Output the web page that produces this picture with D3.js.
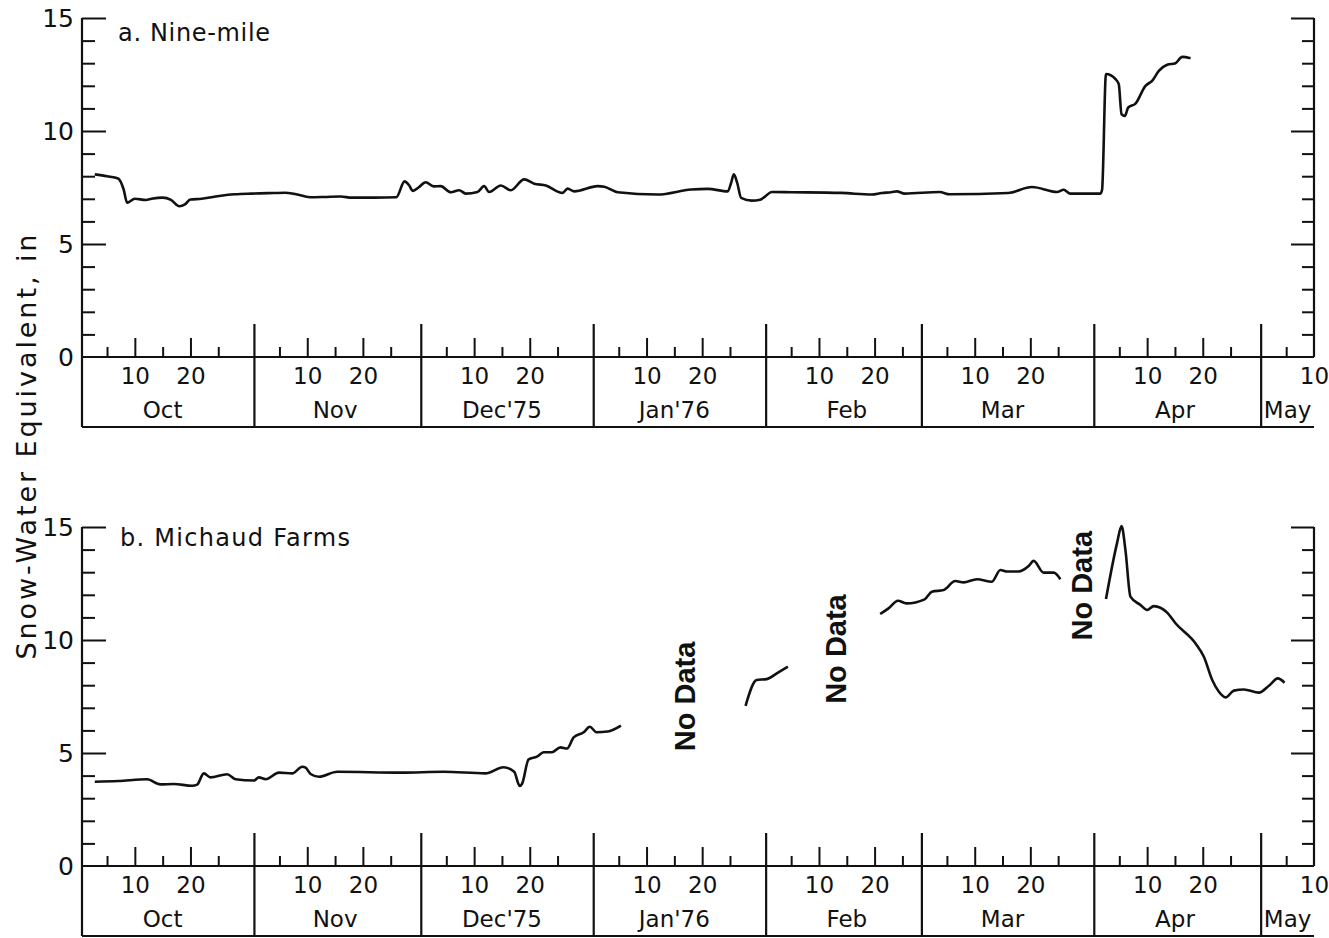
<!DOCTYPE html>
<html><head><meta charset="utf-8">
<script src="https://cdn.jsdelivr.net/npm/d3@7"></script>
<style>
body{margin:0;background:#fff}
svg{display:block}
text{font-family:"DejaVu Sans",sans-serif;fill:#111}
</style>
</head><body>
<svg id="c" width="1329" height="938"></svg>
<script>
// ---------- data ----------
const monthKeys   = ["Oct","Nov","Dec","Jan","Feb","Mar","Apr","May"];
const monthLabels = ["Oct","Nov","Dec'75","Jan'76","Feb","Mar","Apr","May"];
const monthDays   = [31,30,31,31,28,31,30,10];   // as drawn on the original axis
const shortTickDays = [5,15,25];
const longTickDays  = [10,20];
const dayLabels     = ["10","20"];
const yMajor = [0,5,10,15];
const yMinor = [1,2,3,4,6,7,8,9,11,12,13,14];
const yLabel = "Snow-Water Equivalent, in";

// a. Nine-mile
const nineMileDates = ["Oct 2.8","Oct 5","Oct 7","Oct 8","Oct 8.6","Oct 10","Oct 12","Oct 13","Oct 15","Oct 16.5","Oct 18","Oct 19","Oct 20","Oct 22","Oct 24.5","Oct 28","Oct 31",
  "Nov 3","Nov 6","Nov 8","Nov 10.5","Nov 13","Nov 16","Nov 18","Nov 22","Nov 26","Nov 27.5","Nov 28.3","Nov 29","Nov 30",
  "Dec 1.3","Dec 2.7","Dec 4","Dec 5.8","Dec 7.3","Dec 8.5","Dec 10.6","Dec 11.8","Dec 12.7","Dec 14.8","Dec 16.6","Dec 19","Dec 20.8","Dec 22.9","Dec 25.9","Dec 26.8","Dec 28",
  "Jan 1.2","Jan 2.4","Jan 4.8","Jan 12","Jan 18","Jan 21","Jan 24.6","Jan 25.2","Jan 25.7","Jan 26.3","Jan 27","Jan 28.9","Jan 30.4","Jan 31.3",
  "Feb 1.5","Feb 5","Feb 14","Feb 19.5","Feb 21.3","Feb 23","Feb 24","Feb 25.4",
  "Mar 3.7","Mar 5.5","Mar 16","Mar 20.3","Mar 24.8","Mar 26","Mar 27.2",
  "Apr 1.6","Apr 1.9","Apr 2.6","Apr 4.3","Apr 4.9","Apr 5.4","Apr 6","Apr 6.6","Apr 7.9","Apr 9.7","Apr 10.9","Apr 12.1","Apr 13.6","Apr 15.1","Apr 16.3","Apr 17.8"];
const nineMileSWE = [8.08,8.0,7.9,7.4,6.83,7.0,6.95,7.0,7.05,6.95,6.67,6.75,6.97,7.0,7.1,7.2,7.23,
  7.25,7.27,7.2,7.07,7.08,7.1,7.05,7.05,7.07,7.77,7.6,7.35,7.5,
  7.73,7.55,7.56,7.29,7.38,7.23,7.3,7.56,7.3,7.59,7.38,7.86,7.67,7.59,7.26,7.45,7.33,
  7.56,7.53,7.29,7.19,7.41,7.44,7.33,7.7,8.08,7.7,7.04,6.92,6.96,7.1,
  7.3,7.29,7.26,7.19,7.26,7.29,7.33,7.23,
  7.3,7.2,7.26,7.52,7.3,7.4,7.23,
  7.23,7.4,12.52,12.3,12.07,10.74,10.67,11.04,11.21,12.0,12.22,12.66,12.93,13.0,13.28,13.22];

// b. Michaud Farms (null = no data)
const michaudDates = ["Oct 2.8","Oct 7","Oct 12.2","Oct 14.6","Oct 17","Oct 20.3","Oct 21.2","Oct 22.4","Oct 23.6","Oct 26.6","Oct 28.1","Oct 31.4",
  "Nov 1.3","Nov 2.5","Nov 4.9","Nov 7.3","Nov 9.1","Nov 9.7","Nov 10.6","Nov 12.1","Nov 15.4","Nov 26.8",
  "Dec 4.5","Dec 12","Dec 15.3","Dec 17.2","Dec 18.2","Dec 18.6","Dec 19.8","Dec 21.3","Dec 22.5","Dec 24","Dec 25.5","Dec 26.7","Dec 27.9","Dec 29.7","Dec 30.8",
  "Jan 1","Jan 3","Jan 5.4","Jan 16",
  "Jan 27.8","Jan 29.8","Jan 31.6","Feb 2.7","Feb 4.4","Feb 12",
  "Feb 21","Feb 22.5","Feb 24.2","Feb 25.7","Mar 1","Mar 2.3","Mar 4.4","Mar 6.5","Mar 8","Mar 10.4","Mar 13.1","Mar 14.6","Mar 15.8","Mar 17.9","Mar 19.7","Mar 20.6","Mar 22.4","Mar 24.2","Mar 25.4","Mar 29",
  "Apr 2.6","Apr 4.6","Apr 5.4","Apr 6.1","Apr 7","Apr 8.8","Apr 10","Apr 11.2","Apr 13.6","Apr 15.1","Apr 18.7","Apr 20.2","Apr 21.7","Apr 22.9","Apr 24.1","Apr 25.6","Apr 27.4","Apr 30.1","May 2","May 3.5","May 4.7"];
const michaudSWE = [3.73,3.76,3.84,3.61,3.63,3.55,3.6,4.1,3.92,4.06,3.84,3.78,
  3.92,3.84,4.13,4.1,4.39,4.35,4.07,3.95,4.17,4.13,
  4.17,4.1,4.37,4.17,3.54,3.63,4.72,4.84,5.03,5.03,5.25,5.2,5.69,5.92,6.16,
  5.92,5.95,6.21,null,
  7.09,8.23,8.27,8.57,8.82,null,
  11.15,11.4,11.74,11.62,11.8,12.14,12.21,12.61,12.55,12.69,12.58,13.1,13.03,13.03,13.27,13.5,12.98,12.98,12.69,null,
  11.81,14.3,15.04,13.98,11.92,11.55,11.33,11.5,11.21,10.74,9.85,9.26,8.23,7.71,7.46,7.76,7.81,7.67,8.0,8.3,8.11];

const noDataText   = "No Data";
const noDataDates  = ["Jan 17","Feb 13","Mar 29.3"];
const noDataLevels = [7.5,9.6,12.4];

// ---------- helpers ----------
const monthStart = monthDays.map((d,i)=>d3.sum(monthDays.slice(0,i)));
function toT(s){ const [k,d] = s.split(" "); return monthStart[monthKeys.indexOf(k)] + (+d) - 0.5; }

const svg = d3.select("#c");
const x = d3.scaleLinear().domain([0, monthStart[7] + 9.5]).range([82, 1314]);
const BOX = 70;

const panels = [
  {top:18,  zero:357, title:"a. Nine-mile",     titleX:118, titleY:41,  titleLen:152,
   dates:nineMileDates, vals:nineMileSWE, notes:[]},
  {top:527, zero:866, title:"b. Michaud Farms", titleX:120, titleY:546, titleLen:230,
   dates:michaudDates, vals:michaudSWE, notes:noDataDates.map((d,i)=>({d, v:noDataLevels[i]}))}
];

const X0 = x.range()[0], X1 = x.range()[1];

panels.forEach(p=>{
  const y = d3.scaleLinear().domain([0,15]).range([p.zero, p.top]);
  const g = svg.append("g");
  const ink = "#111";

  // frame lines
  g.append("line").attr("x1",X0).attr("x2",X0).attr("y1",y(15)).attr("y2",p.zero+BOX).attr("stroke",ink).attr("stroke-width",2.2);
  g.append("line").attr("x1",X1).attr("x2",X1).attr("y1",y(15)).attr("y2",p.zero).attr("stroke",ink).attr("stroke-width",2.2);
  g.append("line").attr("x1",X0).attr("x2",X1).attr("y1",p.zero).attr("y2",p.zero).attr("stroke",ink).attr("stroke-width",2.2);
  g.append("line").attr("x1",X0).attr("x2",X1).attr("y1",p.zero+BOX).attr("y2",p.zero+BOX).attr("stroke",ink).attr("stroke-width",2.2);

  // y axes (ticks inward)
  const yAx = (gen, vals, size, xpos) => {
    const a = g.append("g").attr("transform",`translate(${xpos},0)`)
      .call(gen(y).tickValues(vals).tickSize(size).tickFormat(""));
    a.select(".domain").remove();
    a.selectAll(".tick line").attr("stroke",ink).attr("stroke-width",2);
  };
  yAx(d3.axisRight, yMajor.filter(v=>v>0), 24, X0);
  yAx(d3.axisRight, yMinor, 13, X0);
  yAx(d3.axisLeft,  yMajor.filter(v=>v>0), 23, X1);
  yAx(d3.axisLeft,  yMinor, 12, X1);
  const yl = g.append("g").attr("transform",`translate(${X0},0)`)
    .call(d3.axisLeft(y).tickValues(yMajor).tickSize(0).tickPadding(8));
  yl.select(".domain").remove();
  yl.selectAll("text").style("font-size","25px").style("font-family","DejaVu Sans").attr("fill",ink);

  // x ticks
  const shortT = [], longT = [], labT = [], labS = [];
  monthKeys.forEach((k,m)=>{
    shortTickDays.forEach(d=>{ if(d<=monthDays[m]) shortT.push(monthStart[m]+d-0.5); });
    longTickDays.forEach((d,i)=>{ if(d<=monthDays[m]){ const t=monthStart[m]+d-0.5; if(t<x.domain()[1]) longT.push(t); labT.push(t); labS.push(dayLabels[i]); } });
  });
  const xAx = (vals, size) => {
    const a = g.append("g").attr("transform",`translate(0,${p.zero})`)
      .call(d3.axisTop(x).tickValues(vals).tickSize(size).tickFormat(""));
    a.select(".domain").remove();
    a.selectAll(".tick line").attr("stroke",ink).attr("stroke-width",2);
  };
  xAx(shortT, 10);
  xAx(longT, 19);
  const xl = g.append("g").attr("transform",`translate(0,${p.zero})`)
    .call(d3.axisBottom(x).tickValues(labT).tickSize(0).tickPadding(11).tickFormat((d,i)=>labS[i]));
  xl.select(".domain").remove();
  xl.selectAll("text").style("font-size","23px").style("font-family","DejaVu Sans").attr("fill",ink);

  // month separators
  monthStart.slice(1).forEach(t=>{
    g.append("line").attr("x1",x(t)).attr("x2",x(t)).attr("y1",p.zero-33).attr("y2",p.zero+BOX)
      .attr("stroke",ink).attr("stroke-width",2.2);
  });
  // month names
  monthLabels.forEach((lab,m)=>{
    const t = m<7 ? monthStart[m]+14.5 : (monthStart[m] + x.domain()[1])/2;
    g.append("text").attr("x",x(t)).attr("y",p.zero+61).attr("text-anchor","middle")
      .style("font-size","23px").text(lab);
  });

  // title
  g.append("text").attr("x",p.titleX).attr("y",p.titleY).style("font-size","24px")
    .attr("textLength",p.titleLen).attr("lengthAdjust","spacing").text(p.title);

  // data line
  const pts = p.dates.map((d,i)=>({t:toT(d), v:p.vals[i]}));
  g.append("path").datum(pts)
    .attr("d", d3.line().defined(d=>d.v!=null).x(d=>x(d.t)).y(d=>y(d.v)).curve(d3.curveMonotoneX))
    .attr("fill","none").attr("stroke",ink).attr("stroke-width",2.6).attr("stroke-linejoin","round");

  // "No Data" notes
  p.notes.forEach(n=>{
    g.append("text").attr("transform",`translate(${x(toT(n.d))},${y(n.v)}) rotate(-90)`)
      .attr("text-anchor","middle").attr("dominant-baseline","central")
      .style("font-family","Liberation Sans").style("font-weight","bold").style("font-size","29px")
      .text(noDataText);
  });
});

// y-axis title
svg.append("text").attr("transform","translate(36,447) rotate(-90)").attr("text-anchor","middle")
  .style("font-size","27px").attr("textLength",425).attr("lengthAdjust","spacing").text(yLabel);
</script>
</body></html>
